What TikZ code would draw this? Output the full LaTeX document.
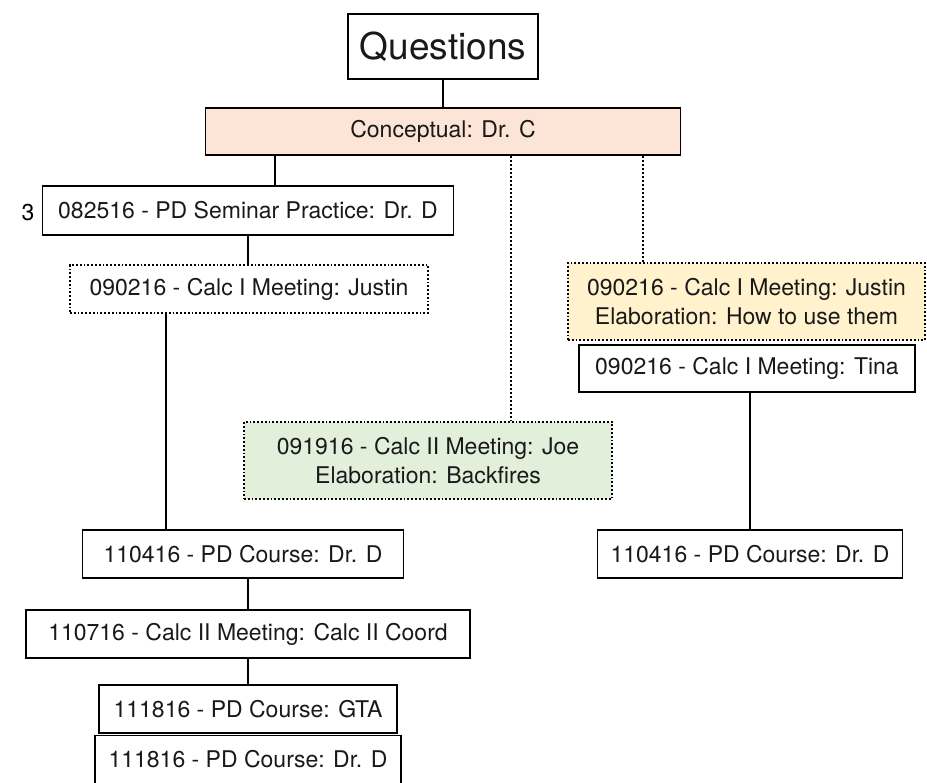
\documentclass[tikz,border=0pt]{standalone}
\usepackage{fontspec}
\setmainfont{TeX Gyre Heros}
\definecolor{peach}{HTML}{FCE4D6}
\definecolor{butter}{HTML}{FFF2CC}
\definecolor{sage}{HTML}{E2EFDA}
\newcommand{\boxfont}{\fontsize{23}{28.5}\selectfont}

\begin{document}
\begin{tikzpicture}[x=1pt,y=-1pt,
  box/.style={draw, line width=1.8pt, inner sep=0pt, font=\boxfont, align=center, text=black!90},
  dotbox/.style={box, dotted},
  tie/.style={line width=2pt},
  dottie/.style={tie, dotted}]
\useasboundingbox (0,0) rectangle (927,783);
% Top of the tree
\node[box, font=\fontsize{37}{40}\selectfont, minimum width=190, minimum height=65] (qs) at (443,46.5) {Questions};
\node[box, fill=peach, minimum width=475, minimum height=47] (concept) at (443,131.5) {Conceptual: Dr. C};
% Left branch
\node[font=\boxfont] (num) at (28,213) {3};
\node[box, minimum width=411, minimum height=49] (seminar) at (248,210.5) {082516 - PD Seminar Practice: Dr. D};
\node[dotbox, minimum width=358, minimum height=48] (justinA) at (249,289) {090216 - Calc I Meeting: Justin};
\node[box, minimum width=321, minimum height=48] (courseL) at (243,554) {110416 - PD Course: Dr. D};
\node[box, minimum width=444, minimum height=48] (calcII) at (248,634) {110716 - Calc II Meeting: Calc II Coord};
\node[box, minimum width=298, minimum height=48] (gta) at (248,709) {111816 - PD Course: GTA};
\node[box, minimum width=306, minimum height=48] (drd) at (248,759.5) {111816 - PD Course: Dr. D};
% Middle branch
\node[dotbox, fill=sage, minimum width=368, minimum height=77] (joe) at (428,460.5) {091916 - Calc II Meeting: Joe\\Elaboration: Backfires};
% Right branch
\node[dotbox, fill=butter, minimum width=357, minimum height=77] (justinB) at (746.5,301.5) {090216 - Calc I Meeting: Justin\\Elaboration: How to use them};
\node[box, minimum width=336, minimum height=47] (tina) at (747,368.5) {090216 - Calc I Meeting: Tina};
\node[box, minimum width=305, minimum height=48] (courseR) at (750,554) {110416 - PD Course: Dr. D};
% Connectors
\draw[tie] (qs.south) -- (concept.north);
\coordinate (c1) at ([xshift=-168]concept.south);
\draw[tie] (c1) -- (c1 |- seminar.north);
\draw[tie] (seminar.south) -- (seminar.south |- justinA.north);
\coordinate (c2) at ([xshift=-83]justinA.south);
\draw[tie] (c2) -- (c2 |- courseL.north);
\draw[tie] (calcII.north |- courseL.south) -- (calcII.north);
\draw[tie] (calcII.south) -- (gta.north);
\coordinate (c3) at ([xshift=68]concept.south);
\draw[dottie] (c3) -- (c3 |- joe.north);
\coordinate (c4) at ([xshift=200]concept.south);
\draw[dottie] (c4) -- (c4 |- justinB.north);
\draw[tie] (courseR.north |- tina.south) -- (courseR.north);
\end{tikzpicture}
\end{document}
